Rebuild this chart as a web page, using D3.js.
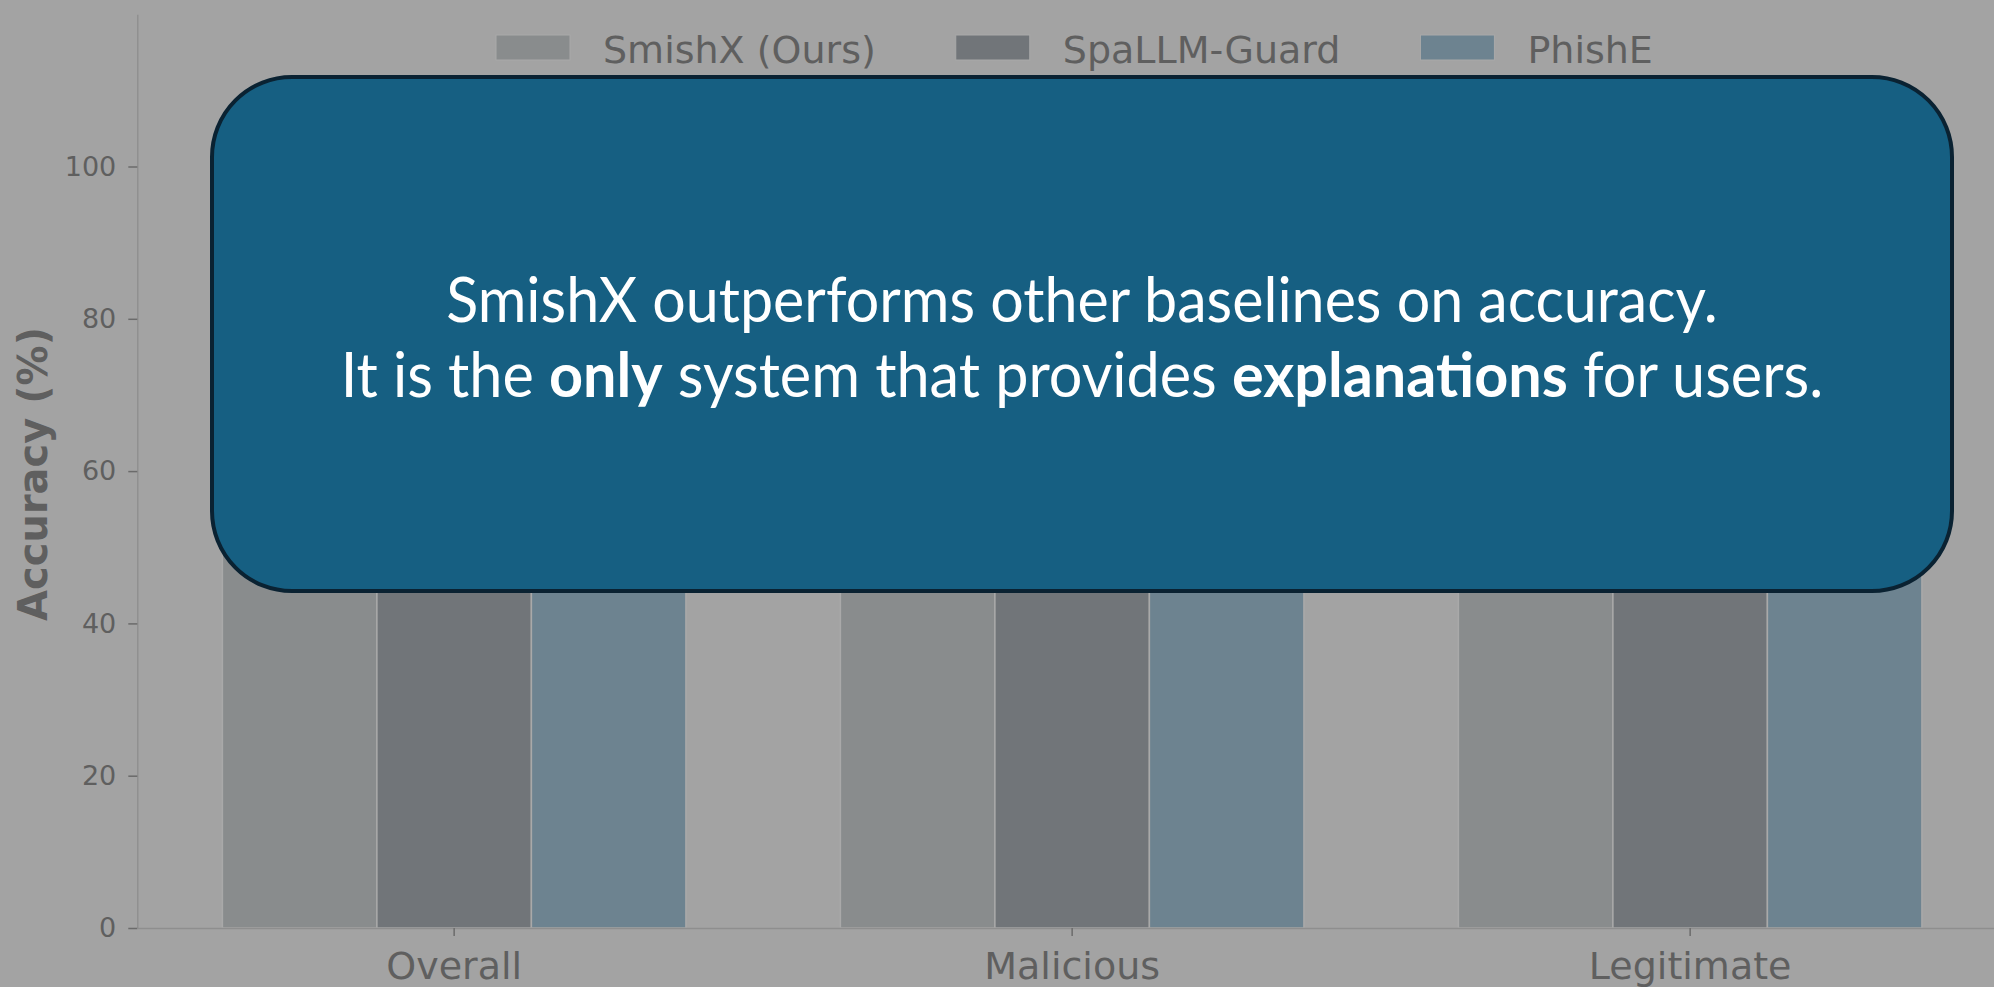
<!DOCTYPE html>
<html>
<head>
<meta charset="utf-8">
<script src="https://cdn.jsdelivr.net/npm/d3@7"></script>
<style>
  html, body { margin: 0; padding: 0; background: #a3a3a3; }
  svg { display: block; }
</style>
</head>
<body>
<svg id="chart" width="1994" height="987"></svg>
<script>
// Accuracy per message category for each detector
const categories = ["Overall", "Malicious", "Legitimate"];
const seriesNames = ["SmishX (Ours)", "SpaLLM-Guard", "PhishE"];
const smishxValues = [91.2, 90.4, 92.0];
const spallmValues = [80.3, 74.5, 86.1];
const phisheValues = [71.2, 62.0, 80.4];
const yTickValues = [0, 20, 40, 60, 80, 100];
const yLabel = "Accuracy (%)";

// Callout text, split into runs so key words can be set in bold
const calloutLine1 = [{ t: "SmishX outperforms other baselines on accuracy.", b: false }];
const calloutLine2 = [
  { t: "It is the ", b: false },
  { t: "only", b: true },
  { t: " system that provides ", b: false },
  { t: "explanations", b: true },
  { t: " for users.", b: false }
];

// Dimmed palette: the chart sits behind the callout
const barColors = ["#898c8d", "#717579", "#6d8390"];
const textColor = "#5f5f5f";
const spineColor = "#8e8e8e";
const tickColor = "#6b6b6b";

const seriesValues = [smishxValues, spallmValues, phisheValues];
const rows = categories.map((c, i) => ({
  category: c,
  values: seriesNames.map((s, j) => ({ series: s, idx: j, value: seriesValues[j][i] }))
}));

const svg = d3.select("#chart");
const W = 1994, H = 987;
const plot = { left: 137.3, right: 2007, top: 14.2, bottom: 928 };

svg.append("rect").attr("width", W).attr("height", H).attr("fill", "#a3a3a3");

const x0 = d3.scaleBand()
  .domain(categories)
  .range([plot.left, plot.right])
  .paddingInner(0.25)
  .paddingOuter(0.1377);

const x1 = d3.scaleBand()
  .domain(seriesNames)
  .range([0, x0.bandwidth()])
  .padding(0);

const y = d3.scaleLinear().domain([0, 120]).range([plot.bottom, plot.top]);

// Bars
svg.append("g")
  .selectAll("g")
  .data(rows)
  .join("g")
  .attr("transform", d => `translate(${x0(d.category)},0)`)
  .selectAll("rect")
  .data(d => d.values)
  .join("rect")
  .attr("x", d => x1(d.series))
  .attr("y", d => y(d.value))
  .attr("width", x1.bandwidth())
  .attr("height", d => y(0) - y(d.value))
  .attr("fill", d => barColors[d.idx])
  .attr("stroke", "#a9a9a9")
  .attr("stroke-width", 1.5);

// Y axis
const yAxis = svg.append("g")
  .attr("transform", `translate(${plot.left},0)`)
  .call(d3.axisLeft(y).tickValues(yTickValues).tickSize(9).tickSizeOuter(0).tickPadding(12));
yAxis.select(".domain").attr("stroke", spineColor).attr("stroke-width", 1.3);
yAxis.selectAll(".tick line").attr("stroke", tickColor).attr("stroke-width", 1.5);
yAxis.selectAll(".tick text")
  .attr("fill", textColor)
  .style("font-family", "'DejaVu Sans', sans-serif")
  .style("font-size", "27px");

// X axis
const xAxis = svg.append("g")
  .attr("transform", `translate(0,${plot.bottom})`)
  .call(d3.axisBottom(x0).tickSize(8).tickSizeOuter(0).tickPadding(16));
xAxis.select(".domain").attr("stroke", spineColor).attr("stroke-width", 1.3);
xAxis.selectAll(".tick line").attr("stroke", tickColor).attr("stroke-width", 1.5);
xAxis.selectAll(".tick text")
  .attr("fill", textColor)
  .style("font-family", "'DejaVu Sans', sans-serif")
  .style("font-size", "38px");

// Y axis title
svg.append("text")
  .attr("transform", `translate(47,474) rotate(-90)`)
  .attr("text-anchor", "middle")
  .attr("fill", textColor)
  .style("font-family", "'DejaVu Sans', sans-serif")
  .style("font-weight", "bold")
  .style("font-size", "40px")
  .text(yLabel);

// Legend, laid out in one row across the top
const legend = svg.append("g").attr("class", "legend");
const swatchW = 74, swatchH = 25, textPad = 33, colGap = 80;
let lx = 496;
seriesNames.forEach((name, i) => {
  legend.append("rect")
    .attr("x", lx).attr("y", 35)
    .attr("width", swatchW).attr("height", swatchH)
    .attr("fill", barColors[i])
    .attr("stroke", "#a9a9a9").attr("stroke-width", 1);
  const t = legend.append("text")
    .attr("x", lx + swatchW + textPad)
    .attr("y", 62.5)
    .attr("fill", textColor)
    .style("font-family", "'DejaVu Sans', sans-serif")
    .style("font-size", "38px")
    .text(name);
  lx += swatchW + textPad + t.node().getComputedTextLength() + colGap;
});

// Callout box
const box = { x: 212, y: 77, w: 1740, h: 514, r: 80 };
svg.append("rect")
  .attr("x", box.x).attr("y", box.y)
  .attr("width", box.w).attr("height", box.h)
  .attr("rx", box.r).attr("ry", box.r)
  .attr("fill", "#165f82")
  .attr("stroke", "#0a2232")
  .attr("stroke-width", 4);

const cx = box.x + box.w / 2;
function calloutLine(runs, baseline, width) {
  const t = svg.append("text")
    .attr("x", 0).attr("y", 0)
    .attr("text-anchor", "middle")
    .attr("fill", "#ffffff")
    .style("font-family", "Lato, 'Open Sans', sans-serif")
    .style("font-size", "61px");
  runs.forEach(r => t.append("tspan").style("font-weight", r.b ? "bold" : "normal").text(r.t));
  const w = t.node().getComputedTextLength();
  t.attr("transform", `translate(${cx},${baseline}) scale(${width / w},1)`);
}
calloutLine(calloutLine1, 322, 1272);
calloutLine(calloutLine2, 397, 1483);
</script>
</body>
</html>
